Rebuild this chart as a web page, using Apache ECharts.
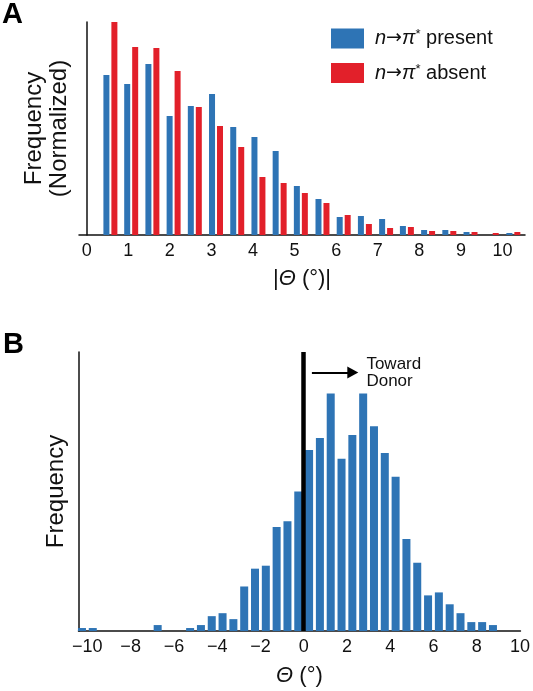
<!DOCTYPE html>
<html>
<head>
<meta charset="utf-8">
<script src="https://cdn.jsdelivr.net/npm/echarts@6/dist/echarts.min.js"></script>
<style>
html,body{margin:0;padding:0;background:#fff;}
#c{width:533px;height:691px;}
</style>
</head>
<body>
<div id="c"></div>
<script>
// ---------- Panel A data ----------
var binCentersA = [0.57,1.07,1.58,2.09,2.60,3.11,3.62,4.13,4.64,5.15,5.67,6.18,6.69,7.20,7.70,8.21,8.72,9.23,9.74,10.26];
var presentA = [160,151,171,119,129,141,108,98,84,49,36,18,19,16,9,5,5,3,0,2];
var absentA  = [213,188,187,164,128,109,88,58,52,42,32,20,11,7,8,4,4,3,2,3];
var ticksA = [0,1,2,3,4,5,6,7,8,9,10];
// ---------- Panel B data ----------
var binCentersB = [-10.25,-9.75,-6.75,-5.25,-4.75,-4.25,-3.75,-3.25,-2.75,-2.25,-1.75,-1.25,-0.75,-0.25,
                   0.25,0.75,1.25,1.75,2.25,2.75,3.25,3.75,4.25,4.75,5.25,5.75,6.25,6.75,7.25,7.75,8.25,8.75];
var countsB = [1,1,2,1,2,5,6,4,15,21,22,35,37,47,
               61,65,80,58,66,80,69,60,52,31,23,12,13,9,6,3,3,2];
var ticksB = [-10,-8,-6,-4,-2,0,2,4,6,8,10];

var BLUE = '#2E74B5', RED = '#E2202A';
var FONT = 'Liberation Sans, Arial, sans-serif';

function pairs(xs, ys){ return xs.map(function(x,i){ return [x, ys[i]]; }); }

var chart = echarts.init(document.getElementById('c'), null, {renderer:'canvas'});

var legendRich = {
  i: {fontStyle:'italic', fontSize:20, fontFamily:FONT, color:'#111'},
  a: {fontSize:19, fontFamily:'DejaVu Sans', color:'#111'},
  s: {fontSize:13, fontFamily:FONT, color:'#111', verticalAlign:'top', padding:[0,0,8,0]},
  t: {fontSize:20, fontFamily:FONT, color:'#111'}
};
var italicRich = {i:{fontStyle:'italic', fontSize:22, fontFamily:FONT, color:'#111'}};

var option = {
  animation:false,
  backgroundColor:'#fff',
  textStyle:{fontFamily:FONT},
  grid:[
    {left:79, top:22, right:8, bottom:456},
    {left:78.5, top:352, right:10, bottom:60}
  ],
  legend:{
    orient:'vertical', left:326, top:23,
    itemWidth:33, itemHeight:20, itemGap:14, icon:'rect',
    data:['present','absent'],
    formatter:function(name){ return '{i|n}{a|→}{i|π}{s|*}{t| ' + name + '}'; },
    textStyle:{rich:legendRich, padding:[0,0,0,6], fontSize:20, color:'#111'}
  },
  xAxis:[
    {gridIndex:0, type:'value', min:-0.185, max:10.54,
     axisLine:{lineStyle:{color:'#111', width:1.5}}, axisTick:{show:false}, splitLine:{show:false},
     axisLabel:{customValues:ticksA, fontSize:18, color:'#111', margin:7, fontFamily:FONT},
     name:'|{i|Θ} (°)|', nameLocation:'middle', nameGap:33,
     nameTextStyle:{fontSize:22, color:'#111', fontFamily:FONT, rich:italicRich}
    },
    {gridIndex:1, type:'value', min:-10.41, max:10.02,
     axisLine:{onZero:false, lineStyle:{color:'#111', width:1.5}}, axisTick:{show:false}, splitLine:{show:false},
     axisLabel:{customValues:ticksB, fontSize:18, color:'#111', margin:7, fontFamily:FONT,
       formatter:function(v){ return String(v).replace('-', '−'); }},
     name:'{i|Θ} (°)', nameLocation:'middle', nameGap:34,
     nameTextStyle:{fontSize:22, color:'#111', fontFamily:FONT, rich:italicRich}
    }
  ],
  yAxis:[
    {gridIndex:0, type:'value', min:0, max:213,
     axisLine:{show:true, lineStyle:{color:'#111', width:1.5}}, axisTick:{show:false},
     axisLabel:{show:false}, splitLine:{show:false},
     name:'Frequency\n(Normalized)', nameLocation:'middle', nameGap:7, nameRotate:90,
     nameTextStyle:{fontSize:24, lineHeight:25, color:'#111', fontFamily:FONT}
    },
    {gridIndex:1, type:'value', min:0, max:94,
     axisLine:{show:true, onZero:false, lineStyle:{color:'#111', width:1.5}}, axisTick:{show:false},
     axisLabel:{show:false}, splitLine:{show:false},
     name:'Frequency', nameLocation:'middle', nameGap:10, nameRotate:90,
     nameTextStyle:{fontSize:24, color:'#111', fontFamily:FONT}
    }
  ],
  series:[
    {name:'present', type:'bar', xAxisIndex:0, yAxisIndex:0, data:pairs(binCentersA, presentA),
     barWidth:6, barGap:'33%', itemStyle:{color:BLUE}},
    {name:'absent', type:'bar', xAxisIndex:0, yAxisIndex:0, data:pairs(binCentersA, absentA),
     barWidth:6, barGap:'33%', itemStyle:{color:RED}},
    {name:'theta', type:'bar', xAxisIndex:1, yAxisIndex:1, data:pairs(binCentersB, countsB),
     barWidth:8, itemStyle:{color:BLUE}, z:2,
     markLine:{silent:true, symbol:['none','none'], label:{show:false}, z:5,
       data:[
         {xAxis:0, lineStyle:{color:'#000', width:4.5, type:'solid'}},
         [{coord:[0.38, 87.1], lineStyle:{color:'#000', width:1.8, type:'solid'}},
          {coord:[2.27, 87.1], symbol:'triangle', symbolSize:[12,11]}]
       ]}
    }
  ]
};
chart.setOption(option);

// annotation text placed in data space of panel B
var p = chart.convertToPixel({gridIndex:1}, [2.9, 92.6]);
chart.setOption({
  graphic:[
    {type:'text', left:2, top:0, style:{text:'A', font:'bold 29px ' + FONT, fill:'#000'}},
    {type:'text', left:3, top:330, style:{text:'B', font:'bold 29px ' + FONT, fill:'#000'}},
    {type:'text', x:p[0], y:p[1], style:{text:'Toward\nDonor', font:'17px ' + FONT, lineHeight:17, fill:'#111'}}
  ]
});
</script>
</body>
</html>
